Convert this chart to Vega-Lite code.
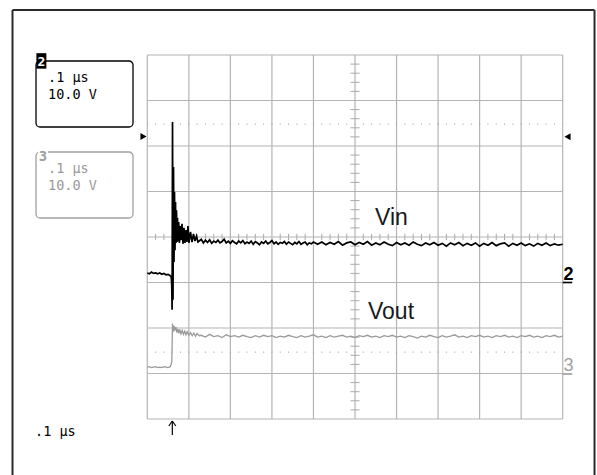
{
  "$schema": "https://vega.github.io/schema/vega-lite/v6.json",
  "autosize": "none",
  "width": 415.4,
  "height": 364,
  "padding": {"left": 147.3, "top": 55, "right": 34.3, "bottom": 56},
  "background": "white",
  "config": {"view": {"stroke": null}},
  "datasets": {
    "gv": [{"t":0},{"t":1},{"t":2},{"t":3},{"t":4},{"t":5},{"t":6},{"t":7},{"t":8},{"t":9},{"t":10}],
    "gh": [{"v":0},{"v":1},{"v":2},{"v":3},{"v":4},{"v":5},{"v":6},{"v":7},{"v":8}],
    "tv": [{"v":0.2},{"v":0.4},{"v":0.6},{"v":0.8},{"v":1.2},{"v":1.4},{"v":1.6},{"v":1.8},{"v":2.2},{"v":2.4},{"v":2.6},{"v":2.8},{"v":3.2},{"v":3.4},{"v":3.6},{"v":3.8},{"v":4.2},{"v":4.4},{"v":4.6},{"v":4.8},{"v":5.2},{"v":5.4},{"v":5.6},{"v":5.8},{"v":6.2},{"v":6.4},{"v":6.6},{"v":6.8},{"v":7.2},{"v":7.4},{"v":7.6},{"v":7.8}],
    "th": [{"t":0.2},{"t":0.4},{"t":0.6},{"t":0.8},{"t":1.2},{"t":1.4},{"t":1.6},{"t":1.8},{"t":2.2},{"t":2.4},{"t":2.6},{"t":2.8},{"t":3.2},{"t":3.4},{"t":3.6},{"t":3.8},{"t":4.2},{"t":4.4},{"t":4.6},{"t":4.8},{"t":5.2},{"t":5.4},{"t":5.6},{"t":5.8},{"t":6.2},{"t":6.4},{"t":6.6},{"t":6.8},{"t":7.2},{"t":7.4},{"t":7.6},{"t":7.8},{"t":8.2},{"t":8.4},{"t":8.6},{"t":8.8},{"t":9.2},{"t":9.4},{"t":9.6},{"t":9.8}],
    "dots": [{"v":6.48},{"v":1.47}],
    "frame": [
      {"x":-3.245,"y":-1.35,"x2":-3.245,"y2":8.989},
      {"x":-3.245,"y":8.989,"x2":10.766,"y2":8.989},
      {"x":10.766,"y":8.989,"x2":10.766,"y2":-1.35}
    ],
    "boxes": [
      {"t":-2.679,"t2":-0.344,"v":7.868,"v2":6.418,"ch":"2"},
      {"t":-2.679,"t2":-0.344,"v":5.868,"v2":4.418,"ch":"3"}
    ],
    "boxtext": [
      {"t":-2.39,"v":7.407,"txt":".1 μs","ch":"2"},
      {"t":-2.39,"v":7.033,"txt":"10.0 V","ch":"2"},
      {"t":-2.39,"v":5.407,"txt":".1 μs","ch":"3"},
      {"t":-2.39,"v":5.033,"txt":"10.0 V","ch":"3"},
      {"t":-2.703,"v":-0.374,"txt":".1 μs","ch":"2"}
    ],
    "tagbg": [
      {"t":-2.67,"t2":-2.43,"v":8.04,"v2":7.70,"ch":"2"},
      {"t":-2.63,"t2":-2.39,"v":5.93,"v2":5.70,"ch":"bg"}
    ],
    "tagtxt2": [{"t":-2.55,"v":7.75,"txt":"2"}],
    "tagtxt3": [{"t":-2.511,"v":5.67,"txt":"3","ch":"3"}],
    "marker2": [{"t":10.02,"v":3.044,"txt":"2"}],
    "marker3": [{"t":10.02,"v":1.044,"txt":"3"}],
    "underl": [
      {"t":10.0,"t2":10.23,"v":3.0,"ch":"2"},
      {"t":10.0,"t2":10.23,"v":0.989,"ch":"3"}
    ],
    "tri": [
      {"t":-0.091,"v":6.209,"dir":"right"},
      {"t":10.116,"v":6.204,"dir":"left"}
    ],
    "arrow": [
      {"x":0.602,"y":-0.044,"x2":0.602,"y2":-0.352},
      {"x":0.602,"y":-0.044,"x2":0.518,"y2":-0.154},
      {"x":0.602,"y":-0.044,"x2":0.686,"y2":-0.154}
    ],
    "siglabels": [
      {"t":5.483,"v":4.264,"txt":"Vin"},
      {"t":5.313,"v":2.191,"txt":"Vout"}
    ],
    "traces": [
      {"sig":"Vin","t":0,"v":3.21},{"sig":"Vin","t":0.05,"v":3.19},{"sig":"Vin","t":0.1,"v":3.23},{"sig":"Vin","t":0.15,"v":3.20},{"sig":"Vin","t":0.2,"v":3.21},{"sig":"Vin","t":0.25,"v":3.19},{"sig":"Vin","t":0.3,"v":3.21},{"sig":"Vin","t":0.35,"v":3.18},{"sig":"Vin","t":0.4,"v":3.20},{"sig":"Vin","t":0.45,"v":3.17},{"sig":"Vin","t":0.5,"v":3.18},{"sig":"Vin","t":0.55,"v":3.15},{"sig":"Vin","t":0.575,"v":3.13},{"sig":"Vin","t":0.588,"v":2.95},{"sig":"Vin","t":0.597,"v":2.40},{"sig":"Vin","t":0.607,"v":6.53},{"sig":"Vin","t":0.619,"v":2.62},{"sig":"Vin","t":0.631,"v":5.54},{"sig":"Vin","t":0.643,"v":3.45},{"sig":"Vin","t":0.655,"v":4.99},{"sig":"Vin","t":0.667,"v":3.71},{"sig":"Vin","t":0.679,"v":4.77},{"sig":"Vin","t":0.691,"v":3.87},{"sig":"Vin","t":0.703,"v":4.59},{"sig":"Vin","t":0.715,"v":3.89},{"sig":"Vin","t":0.727,"v":4.42},{"sig":"Vin","t":0.739,"v":3.91},{"sig":"Vin","t":0.756,"v":4.33},{"sig":"Vin","t":0.773,"v":3.87},{"sig":"Vin","t":0.792,"v":4.24},{"sig":"Vin","t":0.811,"v":3.93},{"sig":"Vin","t":0.835,"v":4.29},{"sig":"Vin","t":0.859,"v":3.85},{"sig":"Vin","t":0.883,"v":4.20},{"sig":"Vin","t":0.907,"v":3.87},{"sig":"Vin","t":0.931,"v":4.15},{"sig":"Vin","t":0.955,"v":3.89},{"sig":"Vin","t":0.979,"v":4.24},{"sig":"Vin","t":1.003,"v":3.87},{"sig":"Vin","t":1.04,"v":4.11},{"sig":"Vin","t":1.076,"v":3.89},{"sig":"Vin","t":1.112,"v":4.07},{"sig":"Vin","t":1.148,"v":3.91},{"sig":"Vin","t":1.184,"v":4.02},{"sig":"Vin","t":1.22,"v":3.89},
      {"sig":"Vin","t":1.3,"v":3.95},{"sig":"Vin","t":1.35,"v":3.87},{"sig":"Vin","t":1.4,"v":3.93},{"sig":"Vin","t":1.45,"v":3.88},{"sig":"Vin","t":1.5,"v":3.94},{"sig":"Vin","t":1.55,"v":3.86},{"sig":"Vin","t":1.6,"v":3.91},{"sig":"Vin","t":1.65,"v":3.88},{"sig":"Vin","t":1.7,"v":3.93},{"sig":"Vin","t":1.75,"v":3.87},{"sig":"Vin","t":1.8,"v":3.90},{"sig":"Vin","t":1.85,"v":3.95},{"sig":"Vin","t":1.9,"v":3.87},{"sig":"Vin","t":1.95,"v":3.91},{"sig":"Vin","t":2.0,"v":3.86},{"sig":"Vin","t":2.05,"v":3.92},{"sig":"Vin","t":2.1,"v":3.88},{"sig":"Vin","t":2.15,"v":3.85},{"sig":"Vin","t":2.2,"v":3.91},{"sig":"Vin","t":2.25,"v":3.87},{"sig":"Vin","t":2.3,"v":3.92},{"sig":"Vin","t":2.35,"v":3.85},{"sig":"Vin","t":2.4,"v":3.89},{"sig":"Vin","t":2.45,"v":3.86},{"sig":"Vin","t":2.5,"v":3.91},{"sig":"Vin","t":2.55,"v":3.84},{"sig":"Vin","t":2.6,"v":3.90},{"sig":"Vin","t":2.65,"v":3.87},{"sig":"Vin","t":2.7,"v":3.83},{"sig":"Vin","t":2.75,"v":3.89},{"sig":"Vin","t":2.8,"v":3.86},{"sig":"Vin","t":2.85,"v":3.91},{"sig":"Vin","t":2.9,"v":3.85},{"sig":"Vin","t":2.95,"v":3.88},{"sig":"Vin","t":3.0,"v":3.92},{"sig":"Vin","t":3.05,"v":3.85},{"sig":"Vin","t":3.1,"v":3.89},{"sig":"Vin","t":3.15,"v":3.84},{"sig":"Vin","t":3.2,"v":3.88},{"sig":"Vin","t":3.25,"v":3.86},{"sig":"Vin","t":3.3,"v":3.90},{"sig":"Vin","t":3.35,"v":3.84},{"sig":"Vin","t":3.4,"v":3.89},{"sig":"Vin","t":3.45,"v":3.86},{"sig":"Vin","t":3.5,"v":3.83},{"sig":"Vin","t":3.55,"v":3.88},{"sig":"Vin","t":3.6,"v":3.85},{"sig":"Vin","t":3.65,"v":3.90},{"sig":"Vin","t":3.7,"v":3.84},{"sig":"Vin","t":3.75,"v":3.87},{"sig":"Vin","t":3.8,"v":3.89},{"sig":"Vin","t":3.85,"v":3.83},{"sig":"Vin","t":3.9,"v":3.87},{"sig":"Vin","t":3.95,"v":3.85},{"sig":"Vin","t":4.0,"v":3.89},{"sig":"Vin","t":4.1,"v":3.84},{"sig":"Vin","t":4.2,"v":3.89},{"sig":"Vin","t":4.3,"v":3.83},{"sig":"Vin","t":4.4,"v":3.88},{"sig":"Vin","t":4.5,"v":3.84},{"sig":"Vin","t":4.6,"v":3.90},{"sig":"Vin","t":4.7,"v":3.82},{"sig":"Vin","t":4.8,"v":3.87},{"sig":"Vin","t":4.9,"v":3.89},{"sig":"Vin","t":5.0,"v":3.83},{"sig":"Vin","t":5.1,"v":3.88},{"sig":"Vin","t":5.2,"v":3.84},{"sig":"Vin","t":5.3,"v":3.90},{"sig":"Vin","t":5.4,"v":3.82},{"sig":"Vin","t":5.5,"v":3.87},{"sig":"Vin","t":5.6,"v":3.83},{"sig":"Vin","t":5.7,"v":3.89},{"sig":"Vin","t":5.8,"v":3.84},{"sig":"Vin","t":5.9,"v":3.81},{"sig":"Vin","t":6.0,"v":3.88},{"sig":"Vin","t":6.1,"v":3.83},{"sig":"Vin","t":6.2,"v":3.87},{"sig":"Vin","t":6.3,"v":3.82},{"sig":"Vin","t":6.4,"v":3.89},{"sig":"Vin","t":6.5,"v":3.84},{"sig":"Vin","t":6.6,"v":3.81},{"sig":"Vin","t":6.7,"v":3.87},{"sig":"Vin","t":6.8,"v":3.83},{"sig":"Vin","t":6.9,"v":3.88},{"sig":"Vin","t":7.0,"v":3.82},{"sig":"Vin","t":7.1,"v":3.86},{"sig":"Vin","t":7.2,"v":3.80},{"sig":"Vin","t":7.3,"v":3.87},{"sig":"Vin","t":7.4,"v":3.83},{"sig":"Vin","t":7.5,"v":3.88},{"sig":"Vin","t":7.6,"v":3.81},{"sig":"Vin","t":7.7,"v":3.86},{"sig":"Vin","t":7.8,"v":3.82},{"sig":"Vin","t":7.9,"v":3.87},{"sig":"Vin","t":8.0,"v":3.80},{"sig":"Vin","t":8.1,"v":3.86},{"sig":"Vin","t":8.2,"v":3.82},{"sig":"Vin","t":8.3,"v":3.88},{"sig":"Vin","t":8.4,"v":3.81},{"sig":"Vin","t":8.5,"v":3.85},{"sig":"Vin","t":8.6,"v":3.87},{"sig":"Vin","t":8.7,"v":3.80},{"sig":"Vin","t":8.8,"v":3.86},{"sig":"Vin","t":8.9,"v":3.82},{"sig":"Vin","t":9.0,"v":3.87},{"sig":"Vin","t":9.1,"v":3.81},{"sig":"Vin","t":9.2,"v":3.85},{"sig":"Vin","t":9.3,"v":3.80},{"sig":"Vin","t":9.4,"v":3.86},{"sig":"Vin","t":9.5,"v":3.82},{"sig":"Vin","t":9.6,"v":3.87},{"sig":"Vin","t":9.7,"v":3.81},{"sig":"Vin","t":9.8,"v":3.85},{"sig":"Vin","t":9.9,"v":3.82},{"sig":"Vin","t":10.0,"v":3.84},
      {"sig":"Vout","t":0,"v":1.14},{"sig":"Vout","t":0.05,"v":1.15},{"sig":"Vout","t":0.1,"v":1.13},{"sig":"Vout","t":0.15,"v":1.14},{"sig":"Vout","t":0.2,"v":1.15},{"sig":"Vout","t":0.25,"v":1.13},{"sig":"Vout","t":0.3,"v":1.14},{"sig":"Vout","t":0.35,"v":1.13},{"sig":"Vout","t":0.4,"v":1.15},{"sig":"Vout","t":0.45,"v":1.14},{"sig":"Vout","t":0.5,"v":1.13},{"sig":"Vout","t":0.55,"v":1.15},{"sig":"Vout","t":0.573,"v":1.20},{"sig":"Vout","t":0.59,"v":1.26},{"sig":"Vout","t":0.607,"v":2.07},{"sig":"Vout","t":0.619,"v":2.05},{"sig":"Vout","t":0.633,"v":1.92},{"sig":"Vout","t":0.647,"v":2.04},{"sig":"Vout","t":0.665,"v":1.95},{"sig":"Vout","t":0.69,"v":2.02},{"sig":"Vout","t":0.71,"v":1.90},{"sig":"Vout","t":0.735,"v":1.98},{"sig":"Vout","t":0.76,"v":1.88},{"sig":"Vout","t":0.78,"v":1.97},{"sig":"Vout","t":0.81,"v":1.87},{"sig":"Vout","t":0.84,"v":1.95},{"sig":"Vout","t":0.87,"v":1.86},{"sig":"Vout","t":0.9,"v":1.93},{"sig":"Vout","t":0.93,"v":1.85},{"sig":"Vout","t":0.96,"v":1.92},{"sig":"Vout","t":1.0,"v":1.84},{"sig":"Vout","t":1.04,"v":1.90},{"sig":"Vout","t":1.08,"v":1.83},{"sig":"Vout","t":1.12,"v":1.89},{"sig":"Vout","t":1.16,"v":1.82},{"sig":"Vout","t":1.2,"v":1.88},{"sig":"Vout","t":1.25,"v":1.83},
      {"sig":"Vout","t":1.3,"v":1.84},{"sig":"Vout","t":1.4,"v":1.80},{"sig":"Vout","t":1.5,"v":1.86},{"sig":"Vout","t":1.6,"v":1.81},{"sig":"Vout","t":1.7,"v":1.83},{"sig":"Vout","t":1.8,"v":1.79},{"sig":"Vout","t":1.9,"v":1.85},{"sig":"Vout","t":2.0,"v":1.81},{"sig":"Vout","t":2.1,"v":1.83},{"sig":"Vout","t":2.2,"v":1.80},{"sig":"Vout","t":2.3,"v":1.84},{"sig":"Vout","t":2.4,"v":1.81},{"sig":"Vout","t":2.5,"v":1.79},{"sig":"Vout","t":2.6,"v":1.83},{"sig":"Vout","t":2.7,"v":1.80},{"sig":"Vout","t":2.8,"v":1.84},{"sig":"Vout","t":2.9,"v":1.81},{"sig":"Vout","t":3.0,"v":1.83},{"sig":"Vout","t":3.1,"v":1.79},{"sig":"Vout","t":3.2,"v":1.82},{"sig":"Vout","t":3.3,"v":1.80},{"sig":"Vout","t":3.4,"v":1.84},{"sig":"Vout","t":3.5,"v":1.81},{"sig":"Vout","t":3.6,"v":1.79},{"sig":"Vout","t":3.7,"v":1.83},{"sig":"Vout","t":3.8,"v":1.80},{"sig":"Vout","t":3.9,"v":1.82},{"sig":"Vout","t":4.0,"v":1.85},{"sig":"Vout","t":4.1,"v":1.80},{"sig":"Vout","t":4.2,"v":1.82},{"sig":"Vout","t":4.3,"v":1.79},{"sig":"Vout","t":4.4,"v":1.83},{"sig":"Vout","t":4.5,"v":1.80},{"sig":"Vout","t":4.6,"v":1.82},{"sig":"Vout","t":4.7,"v":1.84},{"sig":"Vout","t":4.8,"v":1.80},{"sig":"Vout","t":4.9,"v":1.82},{"sig":"Vout","t":5.0,"v":1.79},{"sig":"Vout","t":5.1,"v":1.83},{"sig":"Vout","t":5.2,"v":1.81},{"sig":"Vout","t":5.3,"v":1.84},{"sig":"Vout","t":5.4,"v":1.80},{"sig":"Vout","t":5.5,"v":1.82},{"sig":"Vout","t":5.6,"v":1.79},{"sig":"Vout","t":5.7,"v":1.83},{"sig":"Vout","t":5.8,"v":1.81},{"sig":"Vout","t":5.9,"v":1.84},{"sig":"Vout","t":6.0,"v":1.80},{"sig":"Vout","t":6.1,"v":1.82},{"sig":"Vout","t":6.2,"v":1.79},{"sig":"Vout","t":6.3,"v":1.83},{"sig":"Vout","t":6.4,"v":1.81},{"sig":"Vout","t":6.5,"v":1.78},{"sig":"Vout","t":6.6,"v":1.82},{"sig":"Vout","t":6.7,"v":1.80},{"sig":"Vout","t":6.8,"v":1.84},{"sig":"Vout","t":6.9,"v":1.81},{"sig":"Vout","t":7.0,"v":1.79},{"sig":"Vout","t":7.1,"v":1.83},{"sig":"Vout","t":7.2,"v":1.80},{"sig":"Vout","t":7.3,"v":1.82},{"sig":"Vout","t":7.4,"v":1.85},{"sig":"Vout","t":7.5,"v":1.80},{"sig":"Vout","t":7.6,"v":1.82},{"sig":"Vout","t":7.7,"v":1.79},{"sig":"Vout","t":7.8,"v":1.83},{"sig":"Vout","t":7.9,"v":1.81},{"sig":"Vout","t":8.0,"v":1.84},{"sig":"Vout","t":8.1,"v":1.80},{"sig":"Vout","t":8.2,"v":1.82},{"sig":"Vout","t":8.3,"v":1.79},{"sig":"Vout","t":8.4,"v":1.83},{"sig":"Vout","t":8.5,"v":1.81},{"sig":"Vout","t":8.6,"v":1.84},{"sig":"Vout","t":8.7,"v":1.80},{"sig":"Vout","t":8.8,"v":1.82},{"sig":"Vout","t":8.9,"v":1.79},{"sig":"Vout","t":9.0,"v":1.83},{"sig":"Vout","t":9.1,"v":1.81},{"sig":"Vout","t":9.2,"v":1.84},{"sig":"Vout","t":9.3,"v":1.80},{"sig":"Vout","t":9.4,"v":1.82},{"sig":"Vout","t":9.5,"v":1.79},{"sig":"Vout","t":9.6,"v":1.83},{"sig":"Vout","t":9.7,"v":1.81},{"sig":"Vout","t":9.8,"v":1.84},{"sig":"Vout","t":9.9,"v":1.80},{"sig":"Vout","t":10.0,"v":1.82}
    ]
  },
  "layer": [
    {
      "data": {"name": "gv"},
      "mark": {"type": "rule", "color": "#b4b4b4", "strokeWidth": 1.2},
      "encoding": {
        "x": {"field": "t", "type": "quantitative", "scale": {"domain": [0, 10], "nice": false, "zero": false}, "axis": null},
        "y": {"datum": 0, "type": "quantitative", "scale": {"domain": [0, 8], "nice": false, "zero": false}, "axis": null},
        "y2": {"datum": 8}
      }
    },
    {
      "data": {"name": "gh"},
      "mark": {"type": "rule", "color": "#b4b4b4", "strokeWidth": 1.2},
      "encoding": {
        "x": {"datum": 0, "type": "quantitative", "scale": {"domain": [0, 10], "nice": false, "zero": false}, "axis": null},
        "x2": {"datum": 10},
        "y": {"field": "v", "type": "quantitative", "scale": {"domain": [0, 8], "nice": false, "zero": false}, "axis": null}
      }
    },
    {
      "data": {"name": "tv"},
      "mark": {"type": "rule", "color": "#aaaaaa", "strokeWidth": 1},
      "encoding": {
        "x": {"datum": 4.89, "type": "quantitative", "scale": {"domain": [0, 10], "nice": false, "zero": false}, "axis": null},
        "x2": {"datum": 5.11},
        "y": {"field": "v", "type": "quantitative", "scale": {"domain": [0, 8], "nice": false, "zero": false}, "axis": null}
      }
    },
    {
      "data": {"name": "th"},
      "mark": {"type": "rule", "color": "#aaaaaa", "strokeWidth": 1},
      "encoding": {
        "x": {"field": "t", "type": "quantitative", "scale": {"domain": [0, 10], "nice": false, "zero": false}, "axis": null},
        "y": {"datum": 3.93, "type": "quantitative", "scale": {"domain": [0, 8], "nice": false, "zero": false}, "axis": null},
        "y2": {"datum": 4.07}
      }
    },
    {
      "data": {"name": "dots"},
      "mark": {"type": "rule", "color": "#999999", "strokeWidth": 1, "strokeDash": [1, 7.308], "strokeDashOffset": 0.5},
      "encoding": {
        "x": {"datum": 0, "type": "quantitative", "scale": {"domain": [0, 10], "nice": false, "zero": false}, "axis": null},
        "x2": {"datum": 10},
        "y": {"field": "v", "type": "quantitative", "scale": {"domain": [0, 8], "nice": false, "zero": false}, "axis": null}
      }
    },
    {
      "data": {"name": "traces"},
      "mark": {"type": "line"},
      "encoding": {
        "x": {"field": "t", "type": "quantitative", "scale": {"domain": [0, 10], "nice": false, "zero": false}, "axis": null},
        "y": {"field": "v", "type": "quantitative", "scale": {"domain": [0, 8], "nice": false, "zero": false}, "axis": null},
        "color": {"field": "sig", "type": "nominal", "scale": {"domain": ["Vin", "Vout"], "range": ["#000000", "#9a9a9a"]}, "legend": null},
        "strokeWidth": {"field": "sig", "type": "nominal", "scale": {"domain": ["Vin", "Vout"], "range": [1.7, 1.3]}, "legend": null}
      }
    },
    {
      "data": {"name": "frame"},
      "mark": {"type": "rule", "color": "#2a2a2a", "strokeWidth": 2},
      "encoding": {
        "x": {"field": "x", "type": "quantitative", "scale": {"domain": [0, 10], "nice": false, "zero": false}, "axis": null},
        "x2": {"field": "x2"},
        "y": {"field": "y", "type": "quantitative", "scale": {"domain": [0, 8], "nice": false, "zero": false}, "axis": null},
        "y2": {"field": "y2"}
      }
    },
    {
      "data": {"name": "boxes"},
      "mark": {"type": "rect", "fill": "transparent", "cornerRadius": 4, "strokeWidth": 1.3},
      "encoding": {
        "x": {"field": "t", "type": "quantitative", "scale": {"domain": [0, 10], "nice": false, "zero": false}, "axis": null},
        "x2": {"field": "t2"},
        "y": {"field": "v", "type": "quantitative", "scale": {"domain": [0, 8], "nice": false, "zero": false}, "axis": null},
        "y2": {"field": "v2"},
        "stroke": {"field": "ch", "type": "nominal", "scale": {"domain": ["2", "3"], "range": ["#000000", "#a0a0a0"]}, "legend": null}
      }
    },
    {
      "data": {"name": "tagbg"},
      "mark": {"type": "rect"},
      "encoding": {
        "x": {"field": "t", "type": "quantitative", "scale": {"domain": [0, 10], "nice": false, "zero": false}, "axis": null},
        "x2": {"field": "t2"},
        "y": {"field": "v", "type": "quantitative", "scale": {"domain": [0, 8], "nice": false, "zero": false}, "axis": null},
        "y2": {"field": "v2"},
        "fill": {"field": "ch", "type": "nominal", "scale": {"domain": ["2", "bg"], "range": ["#000000", "#ffffff"]}, "legend": null}
      }
    },
    {
      "data": {"name": "tagtxt2"},
      "mark": {"type": "text", "font": "DejaVu Sans Mono", "fontSize": 13, "fontWeight": "bold", "color": "white", "align": "center", "baseline": "alphabetic"},
      "encoding": {
        "x": {"field": "t", "type": "quantitative", "scale": {"domain": [0, 10], "nice": false, "zero": false}, "axis": null},
        "y": {"field": "v", "type": "quantitative", "scale": {"domain": [0, 8], "nice": false, "zero": false}, "axis": null},
        "text": {"field": "txt"}
      }
    },
    {
      "data": {"name": "tagtxt3"},
      "mark": {"type": "text", "font": "DejaVu Sans Mono", "fontSize": 14, "fontWeight": "bold", "color": "#a0a0a0", "align": "center", "baseline": "alphabetic"},
      "encoding": {
        "x": {"field": "t", "type": "quantitative", "scale": {"domain": [0, 10], "nice": false, "zero": false}, "axis": null},
        "y": {"field": "v", "type": "quantitative", "scale": {"domain": [0, 8], "nice": false, "zero": false}, "axis": null},
        "text": {"field": "txt"}
      }
    },
    {
      "data": {"name": "boxtext"},
      "mark": {"type": "text", "font": "DejaVu Sans Mono", "fontSize": 13.5, "align": "left", "baseline": "alphabetic"},
      "encoding": {
        "x": {"field": "t", "type": "quantitative", "scale": {"domain": [0, 10], "nice": false, "zero": false}, "axis": null},
        "y": {"field": "v", "type": "quantitative", "scale": {"domain": [0, 8], "nice": false, "zero": false}, "axis": null},
        "text": {"field": "txt"},
        "color": {"field": "ch", "type": "nominal", "scale": {"domain": ["2", "3"], "range": ["#000000", "#a0a0a0"]}, "legend": null}
      }
    },
    {
      "data": {"name": "marker2"},
      "mark": {"type": "text", "font": "Liberation Sans", "fontSize": 18, "fontWeight": "bold", "color": "#000000", "align": "left", "baseline": "alphabetic"},
      "encoding": {
        "x": {"field": "t", "type": "quantitative", "scale": {"domain": [0, 10], "nice": false, "zero": false}, "axis": null},
        "y": {"field": "v", "type": "quantitative", "scale": {"domain": [0, 8], "nice": false, "zero": false}, "axis": null},
        "text": {"field": "txt"}
      }
    },
    {
      "data": {"name": "marker3"},
      "mark": {"type": "text", "font": "Liberation Sans", "fontSize": 18, "color": "#a0a0a0", "align": "left", "baseline": "alphabetic"},
      "encoding": {
        "x": {"field": "t", "type": "quantitative", "scale": {"domain": [0, 10], "nice": false, "zero": false}, "axis": null},
        "y": {"field": "v", "type": "quantitative", "scale": {"domain": [0, 8], "nice": false, "zero": false}, "axis": null},
        "text": {"field": "txt"}
      }
    },
    {
      "data": {"name": "underl"},
      "mark": {"type": "rule", "strokeWidth": 1.6},
      "encoding": {
        "x": {"field": "t", "type": "quantitative", "scale": {"domain": [0, 10], "nice": false, "zero": false}, "axis": null},
        "x2": {"field": "t2"},
        "y": {"field": "v", "type": "quantitative", "scale": {"domain": [0, 8], "nice": false, "zero": false}, "axis": null},
        "color": {"field": "ch", "type": "nominal", "scale": {"domain": ["2", "3"], "range": ["#000000", "#a0a0a0"]}, "legend": null}
      }
    },
    {
      "data": {"name": "tri"},
      "mark": {"type": "point", "filled": true, "color": "#000000", "size": 50, "opacity": 1},
      "encoding": {
        "x": {"field": "t", "type": "quantitative", "scale": {"domain": [0, 10], "nice": false, "zero": false}, "axis": null},
        "y": {"field": "v", "type": "quantitative", "scale": {"domain": [0, 8], "nice": false, "zero": false}, "axis": null},
        "shape": {"field": "dir", "type": "nominal", "scale": {"domain": ["right", "left"], "range": ["triangle-right", "triangle-left"]}, "legend": null}
      }
    },
    {
      "data": {"name": "arrow"},
      "mark": {"type": "rule", "color": "#000000", "strokeWidth": 1.2},
      "encoding": {
        "x": {"field": "x", "type": "quantitative", "scale": {"domain": [0, 10], "nice": false, "zero": false}, "axis": null},
        "x2": {"field": "x2"},
        "y": {"field": "y", "type": "quantitative", "scale": {"domain": [0, 8], "nice": false, "zero": false}, "axis": null},
        "y2": {"field": "y2"}
      }
    },
    {
      "data": {"name": "siglabels"},
      "mark": {"type": "text", "font": "Liberation Sans", "fontSize": 23, "align": "left", "baseline": "alphabetic", "color": "#1a1a1a"},
      "encoding": {
        "x": {"field": "t", "type": "quantitative", "scale": {"domain": [0, 10], "nice": false, "zero": false}, "axis": null},
        "y": {"field": "v", "type": "quantitative", "scale": {"domain": [0, 8], "nice": false, "zero": false}, "axis": null},
        "text": {"field": "txt"}
      }
    }
  ]
}
